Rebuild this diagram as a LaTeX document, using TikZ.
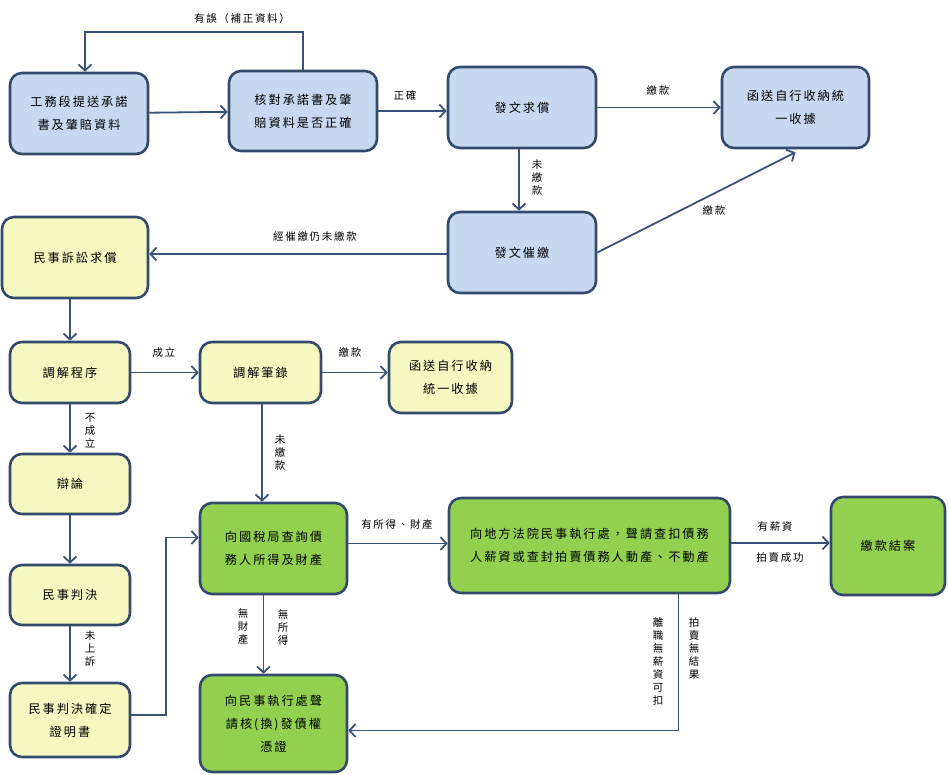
\documentclass[tikz,border=0pt]{standalone}
\usepackage{fontspec}
\newfontfamily\cjk[LetterSpace=16]{Noto Sans CJK TC}
\usetikzlibrary{arrows.meta}
\definecolor{boxline}{RGB}{52,74,106}
\definecolor{arrline}{RGB}{58,82,118}
\definecolor{bluefill}{RGB}{198,217,241}
\definecolor{yellowfill}{RGB}{245,248,192}
\definecolor{greenfill}{RGB}{146,208,80}

\begin{document}
\begin{tikzpicture}[x=1pt,y=-1pt,
    box/.style={draw=boxline,line width=2.6pt,rounded corners=12pt,align=center,
      font=\cjk\fontsize{12.2}{23}\selectfont,inner sep=0pt},
    bluebox/.style={box,fill=bluefill},
    yellowbox/.style={box,fill=yellowfill},
    greenbox/.style={box,fill=greenfill},
    flow/.style={draw=arrline,line width=1.8pt,
      -{Straight Barb[length=6pt,width=13pt,line width=1.8pt]}},
    lbl/.style={font=\cjk\fontsize{10.5}{13}\selectfont,inner sep=1pt,align=center}]
    \useasboundingbox (0,0) rectangle (949,775);

    % first row
    \node[bluebox,minimum width=138pt,minimum height=81pt] (submit) at (79,113.5) {工務段提送承諾\\書及肇賠資料};
    \node[bluebox,minimum width=148pt,minimum height=80pt] (check) at (303,111) {核對承諾書及肇\\賠資料是否正確};
    \node[bluebox,minimum width=148pt,minimum height=81pt] (claim) at (522,107.5) {發文求償};
    \node[bluebox,minimum width=147pt,minimum height=81pt] (receipt) at (795.5,107.5) {函送自行收納統\\一收據};
    \node[bluebox,minimum width=148pt,minimum height=81pt] (dun) at (522,252.5) {發文催繳};
    \node[yellowbox,minimum width=146pt,minimum height=81pt] (civil) at (75,257.5) {民事訴訟求償};

    % mediation
    \node[yellowbox,minimum width=120pt,minimum height=61pt] (mediate) at (70,372.5) {調解程序};
    \node[yellowbox,minimum width=121pt,minimum height=61pt] (record) at (260.5,372.5) {調解筆錄};
    \node[yellowbox,minimum width=123pt,minimum height=71pt] (receipttwo) at (450.5,377.5) {函送自行收納\\統一收據};
    \node[yellowbox,minimum width=120pt,minimum height=60pt] (debate) at (70,484) {辯論};
    \node[yellowbox,minimum width=120pt,minimum height=60pt] (verdict) at (70,595) {民事判決};
    \node[yellowbox,minimum width=120pt,minimum height=74pt] (cert) at (70,720) {民事判決確定\\證明書};

    % enforcement
    \node[greenbox,minimum width=147pt,minimum height=91pt] (tax) at (273.5,548.5) {向國稅局查詢債\\務人所得及財產};
    \node[greenbox,minimum width=281pt,minimum height=95pt] (court) at (589.5,545.5) {向地方法院民事執行處，聲請查扣債務\\人薪資或查封拍賣債務人動產、不動產};
    \node[greenbox,minimum width=114pt,minimum height=98pt] (done) at (888,546) {繳款結案};
    \node[greenbox,minimum width=147pt,minimum height=97pt] (credit) at (273.5,723.5) {向民事執行處聲\\請核(換)發債權\\憑證};

    \draw[flow] (submit) -- (check);
    \draw[flow] (check.north) -- ++(0,-38) -| ([xshift=6pt]submit.north);
    \draw[flow] (check) -- (check -| claim.west);
    \draw[flow] (claim) -- (receipt);
    \draw[flow] ([xshift=-3pt]claim.south) -- ([xshift=-3pt]dun.north);
    \draw[flow] (dun.east) -- ([yshift=-3pt]receipt.south);
    \draw[flow] ([yshift=-1.5pt]dun.west) -- ([yshift=-1.5pt]dun.west -| civil.east);
    \draw[flow] (civil.south -| mediate.north) -- (mediate.north);
    \draw[flow] (mediate) -- (record);
    \draw[flow] (record) -- (record -| receipttwo.west);
    \draw[flow] ([xshift=1.5pt]record.south) -- ([xshift=1.5pt]record.south |- tax.north);
    \draw[flow] (mediate) -- (debate);
    \draw[flow] (debate) -- (verdict);
    \draw[flow] (verdict) -- (cert);
    \draw[flow] ([yshift=5pt]cert.east) -- ++(35,0) |- ([yshift=11pt]tax.west);
    \draw[flow] ([yshift=5pt]tax.east) -- ([yshift=5pt]tax.east -| court.west);
    \draw[flow] ([yshift=2.5pt]court.east) -- ([yshift=2.5pt]court.east -| done.west);
    \draw[flow] ([xshift=-10pt]tax.south) -- ([xshift=-10pt]credit.north);
    \draw[flow] ([xshift=89pt]court.south) |- ([yshift=-7pt]credit.east);

    \node[lbl] (lwrong) at (242,19) {有誤（補正資料）};
    \node[lbl] (lok) at (405,96) {正確};
    \node[lbl] (lpaya) at (658,91) {繳款};
    \node[lbl] (lunpaida) at (537,178) {未\\繳\\款};
    \node[lbl] (lpayb) at (714,211) {繳款};
    \node[lbl] (lstill) at (315,237) {經催繳仍未繳款};
    \node[lbl] (lsettle) at (164,353) {成立};
    \node[lbl] (lpayc) at (350,353) {繳款};
    \node[lbl] (lfail) at (90,431) {不\\成\\立};
    \node[lbl] (lunpaidb) at (280,453) {未\\繳\\款};
    \node[lbl] (lnoappeal) at (90,649) {未\\上\\訴};
    \node[lbl] (lassets) at (397,525) {有所得、財產};
    \node[lbl] (lwage) at (775,527) {有薪資};
    \node[lbl] (lsold) at (780,558) {拍賣成功};
    \node[lbl] (lnoprop) at (243,627) {無\\財\\產};
    \node[lbl] (lnoinc) at (283,627) {無\\所\\得};
    \node[lbl] (lleft) at (658,661) {離\\職\\無\\薪\\資\\可\\扣};
    \node[lbl] (lnosale) at (694,649) {拍\\賣\\無\\結\\果};
\end{tikzpicture}
\end{document}
